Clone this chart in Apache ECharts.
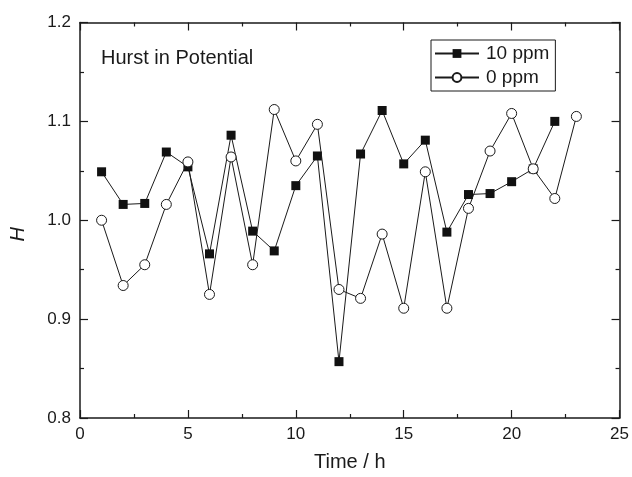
<!DOCTYPE html>
<html>
<head>
<meta charset="utf-8">
<script src="https://cdn.jsdelivr.net/npm/echarts@6/dist/echarts.min.js"></script>
<style>
html,body{margin:0;padding:0;background:#fff;}
#chart{width:632px;height:477px;}
</style>
</head>
<body>
<div id="chart"></div>
<script>
// Data
var timeTen = [1,2,3,4,5,6,7,8,9,10,11,12,13,14,15,16,17,18,19,20,21,22];
var hTen = [1.049,1.016,1.017,1.069,1.054,0.966,1.086,0.989,0.969,1.035,1.065,0.857,1.067,1.111,1.057,1.081,0.988,1.026,1.027,1.039,1.052,1.100];
var timeZero = [1,2,3,4,5,6,7,8,9,10,11,12,13,14,15,16,17,18,19,20,21,22,23];
var hZero = [1.000,0.934,0.955,1.016,1.059,0.925,1.064,0.955,1.112,1.060,1.097,0.930,0.921,0.986,0.911,1.049,0.911,1.012,1.070,1.108,1.052,1.022,1.105];
var seriesNames = ['10 ppm', '0 ppm'];
var annotation = 'Hurst in Potential';
var xTitle = 'Time / h';
var yTitle = 'H';

function pairs(xs, ys){ return xs.map(function(x,i){ return [x, ys[i]]; }); }

var FONT = "'Liberation Sans', Arial, sans-serif";
var INK = '#1a1a1a';

var chart = echarts.init(document.getElementById('chart'), null, {renderer:'canvas'});

var axisCommon = {
  axisLine: {show:true, onZero:false, lineStyle:{color:INK, width:1.5}},
  axisTick: {show:true, inside:true, length:8, lineStyle:{color:INK, width:1.2}},
  minorTick: {show:true, splitNumber:2, length:4, lineStyle:{color:INK, width:1.2}},
  splitLine: {show:false},
  minorSplitLine: {show:false}
};

var option = {
  animation: false,
  backgroundColor: '#fff',
  textStyle: {fontFamily: FONT},
  title: {
    text: annotation,
    left: 101, top: 48, padding: 0,
    textStyle: {fontFamily: FONT, fontSize: 20, fontWeight: 'normal', color: INK}
  },
  legend: {
    data: [seriesNames[0], seriesNames[1]],
    orient: 'vertical',
    left: 431, top: 40,
    width: 120,
    padding: [4, 6, 4, 3],
    itemGap: 5,
    itemWidth: 44,
    itemHeight: 11,
    borderColor: INK,
    borderWidth: 1,
    textStyle: {fontFamily: FONT, fontSize: 19, color: INK, padding:[0,0,0,2]}
  },
  grid: {left: 80, right: 11, top: 22.5, bottom: 55, containLabel: false},
  xAxis: [
    Object.assign({}, axisCommon, {
      type:'value', min:0, max:25, interval:5, position:'bottom',
      name: xTitle, nameLocation:'middle', nameGap: 34,
      nameTextStyle:{fontFamily:FONT, fontSize:20, color:INK},
      axisLabel:{show:true, margin:8, fontSize:17, fontFamily:FONT, color:INK}
    }),
    Object.assign({}, axisCommon, {
      type:'value', min:0, max:25, interval:5, position:'top',
      axisLabel:{show:false}
    })
  ],
  yAxis: [
    Object.assign({}, axisCommon, {
      type:'value', min:0.8, max:1.2, interval:0.1, position:'left',
      name: yTitle, nameLocation:'middle', nameGap: 52, nameRotate: 90,
      nameTextStyle:{fontFamily:FONT, fontSize:20, fontStyle:'italic', color:INK, padding:[0,28,0,0]},
      axisLabel:{show:true, margin:9, fontSize:17, fontFamily:FONT, color:INK,
        formatter:function(v){ return v.toFixed(1); }}
    }),
    Object.assign({}, axisCommon, {
      type:'value', min:0.8, max:1.2, interval:0.1, position:'right',
      axisLabel:{show:false}
    })
  ],
  series: [
    {
      name: seriesNames[0],
      type: 'line',
      xAxisIndex: 0, yAxisIndex: 0,
      data: pairs(timeTen, hTen),
      symbol: 'rect', symbolSize: 9,
      showSymbol: true, showAllSymbol: true,
      lineStyle: {color: INK, width: 1},
      itemStyle: {color: '#111', borderColor: '#111', borderWidth: 0},
      z: 2
    },
    {
      name: seriesNames[1],
      type: 'line',
      xAxisIndex: 0, yAxisIndex: 0,
      data: pairs(timeZero, hZero),
      symbol: 'circle', symbolSize: 10,
      showSymbol: true, showAllSymbol: true,
      lineStyle: {color: INK, width: 1},
      itemStyle: {color: '#fff', borderColor: INK, borderWidth: 1},
      z: 3
    }
  ]
};
chart.setOption(option);
</script>
</body>
</html>
